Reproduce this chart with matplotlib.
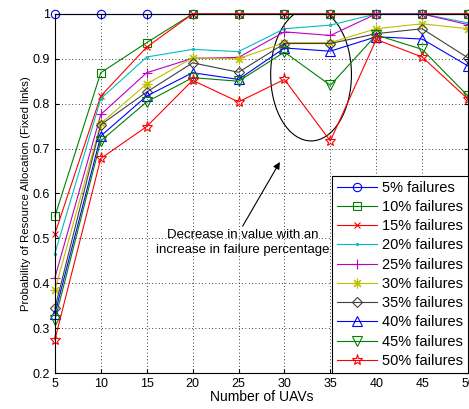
import matplotlib
matplotlib.use("Agg")
import matplotlib.pyplot as plt
from matplotlib.patches import Ellipse

plt.rcParams['font.family'] = ['Liberation Sans', 'DejaVu Sans']

# number of UAVs
uavs = [5, 10, 15, 20, 25, 30, 35, 40, 45, 50]

# probability of resource allocation, one list per failure percentage
p05 = [1.0, 1.0, 1.0, 1.0, 1.0, 1.0, 1.0, 1.0, 1.0, 1.0]
p10 = [0.549, 0.869, 0.936, 1.0, 1.0, 1.0, 1.0, 1.0, 1.0, 1.0]
p15 = [0.510, 0.817, 0.926, 1.0, 1.0, 1.0, 1.0, 1.0, 1.0, 1.0]
p20 = [0.466, 0.811, 0.904, 0.921, 0.916, 0.967, 0.975, 1.0, 1.0, 0.980]
p25 = [0.412, 0.776, 0.869, 0.901, 0.903, 0.960, 0.952, 1.0, 1.0, 0.976]
p30 = [0.384, 0.756, 0.844, 0.902, 0.900, 0.936, 0.936, 0.967, 0.978, 0.967]
p35 = [0.344, 0.753, 0.826, 0.891, 0.870, 0.934, 0.934, 0.956, 0.967, 0.902]
p40 = [0.332, 0.728, 0.817, 0.869, 0.854, 0.924, 0.917, 0.949, 0.944, 0.884]
p45 = [0.318, 0.717, 0.804, 0.858, 0.850, 0.915, 0.841, 0.953, 0.921, 0.817]
p50 = [0.274, 0.678, 0.749, 0.852, 0.804, 0.854, 0.717, 0.943, 0.904, 0.810]

labels = ['5% failures', '10% failures', '15% failures', '20% failures',
          '25% failures', '30% failures', '35% failures', '40% failures',
          '45% failures', '50% failures']

series = [p05, p10, p15, p20, p25, p30, p35, p40, p45, p50]
colors = ['#0000ff', '#008000', '#ff0000', '#00bfbf', '#bf00bf',
          '#bfbf00', '#404040', '#0000ff', '#008000', '#ff0000']
# 30% uses an 8-spoke asterisk like matlab's '*'
markers = ['o', 's', 'x', '.', '+', (8, 2, 0), 'D', '^', 'v', '*']
sizes = [6, 6, 4.5, 3, 7, 7, 5, 7, 7, 8]

fig = plt.figure(figsize=(4.69, 4.09), dpi=100)
ax = fig.add_axes([0.117, 0.088, 0.881, 0.878])

for ys, c, m, s, lab in zip(series, colors, markers, sizes, labels):
    ax.plot(uavs, ys, color=c, marker=m, markersize=s, linewidth=0.8,
            markerfacecolor='none', markeredgecolor=c, markeredgewidth=0.8,
            label=lab, clip_on=False)

ax.set_xlim(5, 50)
ax.set_ylim(0.2, 1.0)
ax.set_xticks(uavs)
ax.set_yticks([0.2, 0.3, 0.4, 0.5, 0.6, 0.7, 0.8, 0.9, 1.0])
ax.set_yticklabels(['0.2', '0.3', '0.4', '0.5', '0.6', '0.7', '0.8', '0.9', '1'])
ax.grid(True, color='black', linestyle=(0, (1, 3)), linewidth=0.6)
ax.tick_params(direction='in', top=True, right=True, labelsize=9, length=3)
for sp in ax.spines.values():
    sp.set_linewidth(0.8)

ax.set_xlabel('Number of UAVs', fontsize=10, labelpad=0)
ax.set_ylabel('Probability of Resource Allocation (Fixed links)', fontsize=8.2, labelpad=1)

# ellipse around the dip
ax.add_patch(Ellipse((32.9, 0.865), 8.8, 0.296, fill=False, edgecolor='black', linewidth=0.8))
ax.text(25.5, 0.49, 'Decrease in value with an\nincrease in failure percentage',
        fontsize=9.5, ha='center', va='center', linespacing=1.35)
ax.annotate('', xy=(29.5, 0.670), xytext=(25.45, 0.527),
            arrowprops=dict(arrowstyle='-|>', color='black', lw=0.8,
                            shrinkA=0, shrinkB=0, mutation_scale=10))

leg = ax.legend(loc='lower right', fontsize=10.5, handlelength=2.7,
                handletextpad=0.35, borderaxespad=0, fancybox=False,
                framealpha=1, labelspacing=0.36, borderpad=0.35)
leg.get_frame().set_edgecolor('black')
leg.get_frame().set_linewidth(0.8)

fig.savefig('out.png', dpi=100)
